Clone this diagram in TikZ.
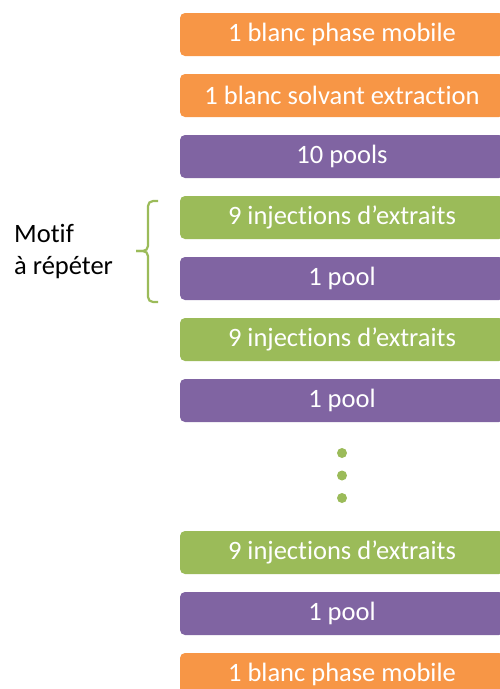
\documentclass[tikz,border=0pt]{standalone}
\usepackage{fontspec}
\setmainfont{Carlito}[Ligatures=NoCommon]
\definecolor{borange}{HTML}{F79646}
\definecolor{bpurple}{HTML}{8064A2}
\definecolor{bgreen}{HTML}{9BBB59}
\tikzset{
  stepbox/.style={fill=#1, draw=none, rounded corners=5pt, minimum width=324pt, minimum height=43pt,
    text=white, font=\fontsize{26.5}{30}\selectfont, inner sep=0pt},
  dotmark/.style={circle, fill=bgreen, minimum size=10pt, inner sep=0pt}
}
\begin{document}
\begin{tikzpicture}[x=1pt,y=-1pt]
\useasboundingbox (0,0) rectangle (500,689);
\clip (0,0) rectangle (500,689);
\node[stepbox=borange] (b1) at (342,34.5) {1 blanc phase mobile};
\node[stepbox=borange] (b2) at (342,95.5) {1 blanc solvant extraction};
\node[stepbox=bpurple] (b3) at (342,156.5) {10 pools};
\node[stepbox=bgreen] (b4) at (342,217.5) {9 injections d’extraits};
\node[stepbox=bpurple] (b5) at (342,278.5) {1 pool};
\node[stepbox=bgreen] (b6) at (342,339.5) {9 injections d’extraits};
\node[stepbox=bpurple] (b7) at (342,400.5) {1 pool};
\node[dotmark] (d1) at (342,453) {};
\node[dotmark] (d2) at (342,475.5) {};
\node[dotmark] (d3) at (342,498) {};
\node[stepbox=bgreen] (b8) at (342,552.5) {9 injections d’extraits};
\node[stepbox=bpurple] (b9) at (342,613.5) {1 pool};
\node[stepbox=borange] (b10) at (342,674.5) {1 blanc phase mobile};
\node[anchor=west, align=left, font=\fontsize{26.5}{32}\selectfont, inner sep=0pt] (motif) at (14,252) {Motif\\à répéter};
\draw[bgreen, line width=2.2pt, rounded corners=5pt]
  (158,201) -- (148,201) -- (148,251) -- (136,251);
\draw[bgreen, line width=2.2pt, rounded corners=5pt]
  (136,251) -- (148,251) -- (148,302) -- (158,302);
\end{tikzpicture}
\end{document}
